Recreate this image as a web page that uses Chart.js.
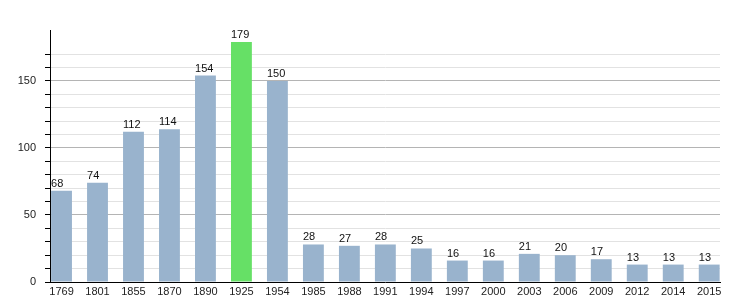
<!DOCTYPE html>
<html>
<head>
<meta charset="utf-8">
<script src="https://cdn.jsdelivr.net/npm/chart.js@4"></script>
<style>
  html, body { margin: 0; padding: 0; background: #fff; }
  #wrap { width: 750px; height: 300px; }
</style>
</head>
<body>
<div id="wrap"><canvas id="popChart" width="750" height="300"></canvas></div>
<script>
const years = ['1769', '1801', '1855', '1870', '1890', '1925', '1954', '1985', '1988', '1991',
               '1994', '1997', '2000', '2003', '2006', '2009', '2012', '2014', '2015'];
const population = [68, 74, 112, 114, 154, 179, 150, 28, 27, 28, 25, 16, 16, 21, 20, 17, 13, 13, 13];
const highlightYear = '1925';

const barBlue = '#99b3cd';
const barGreen = '#66e066';

// valeurs au-dessus des barres, calées sur le bord gauche
const valueLabels = {
    id: 'valueLabels',
    afterDatasetsDraw(chart) {
        const ctx = chart.ctx;
        const meta = chart.getDatasetMeta(0);
        ctx.save();
        ctx.font = '11px "Liberation Sans", Arial, sans-serif';
        ctx.fillStyle = '#111';
        ctx.textAlign = 'left';
        ctx.textBaseline = 'alphabetic';
        meta.data.forEach((bar, i) => {
            ctx.fillText(String(population[i]), bar.x - bar.width / 2, bar.y - 4);
        });
        ctx.restore();
    }
};

const ctx = document.getElementById('popChart').getContext('2d');
new Chart(ctx, {
    type: 'bar',
    data: {
        datasets: [{
            data: years.map((y, i) => ({ x: i, y: population[i] })),
            backgroundColor: years.map(y => y === highlightYear ? barGreen : barBlue),
            borderWidth: 0,
            categoryPercentage: 1,
            barPercentage: 0.58
        }]
    },
    plugins: [valueLabels],
    options: {
        responsive: false,
        animation: false,
        layout: { padding: { top: 30, right: 30, left: 0, bottom: 0 } },
        plugins: {
            legend: { display: false },
            tooltip: { enabled: false }
        },
        scales: {
            x: {
                type: 'linear',
                offset: false,
                min: -0.32,
                max: 18.3,
                afterFit: scale => { scale.height = 18; },
                afterBuildTicks: scale => { scale.ticks = years.map((y, i) => ({ value: i })); },
                grid: { display: false, offset: false, drawTicks: false },
                border: { display: true, color: '#000', width: 1 },
                ticks: {
                    autoSkip: false,
                    maxRotation: 0,
                    padding: 3,
                    color: '#222',
                    font: { family: '"Liberation Sans", Arial, sans-serif', size: 11 },
                    callback: v => years[v] || ''
                }
            },
            y: {
                min: 0,
                max: 188,
                afterFit: scale => { scale.width = 50; },
                border: { display: true, color: '#000', width: 1 },
                grid: {
                    tickLength: 5,
                    color: c => {
                        const v = c.tick.value;
                        if (v === 0 || v % 10 !== 0) return 'rgba(0,0,0,0)';
                        return v % 50 === 0 ? '#b4b4b4' : '#e2e2e2';
                    },
                    tickColor: c => c.tick.value % 10 === 0 ? '#000' : 'rgba(0,0,0,0)'
                },
                ticks: {
                    stepSize: 10,
                    autoSkip: false,
                    padding: 9,
                    color: '#222',
                    font: { family: '"Liberation Sans", Arial, sans-serif', size: 11 },
                    callback: v => v % 50 === 0 ? v : ''
                }
            }
        }
    }
});
</script>
</body>
</html>
